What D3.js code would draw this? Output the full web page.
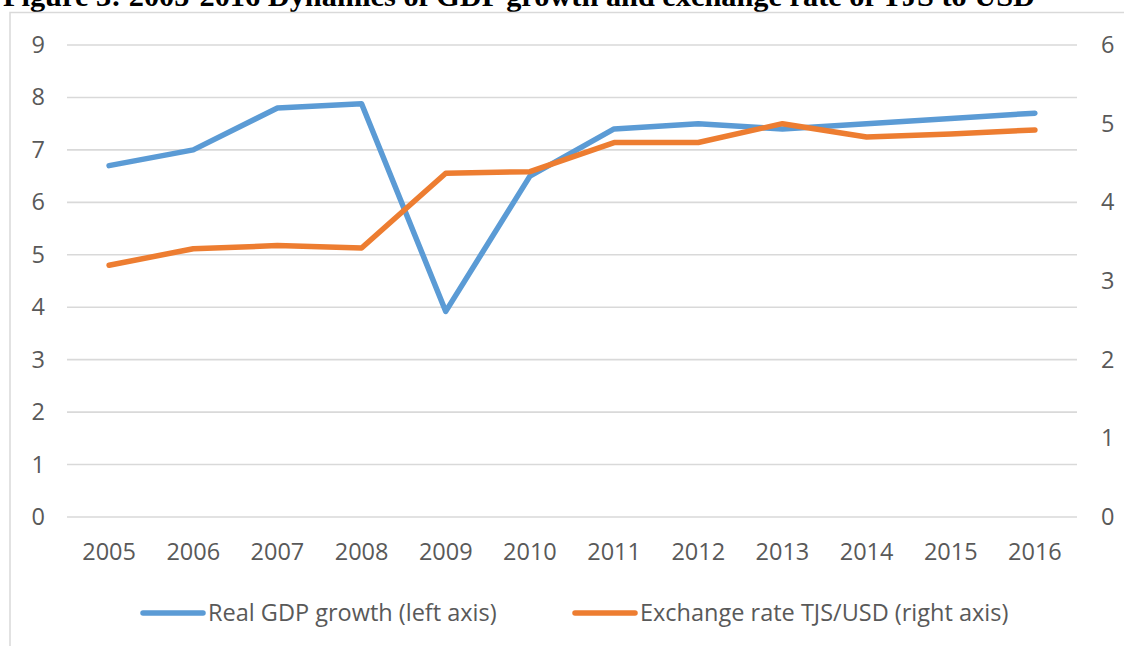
<!DOCTYPE html>
<html>
<head>
<meta charset="utf-8">
<script src="https://cdn.jsdelivr.net/npm/d3@7"></script>
<style>
  body { margin: 0; background: #fff; }
  svg { display: block; }
</style>
</head>
<body>
<svg></svg>
<script>
// data
var years = ["2005","2006","2007","2008","2009","2010","2011","2012","2013","2014","2015","2016"];
var gdpGrowth = [6.7, 7.0, 7.8, 7.88, 3.92, 6.5, 7.4, 7.5, 7.4, 7.5, 7.6, 7.7];
var exchangeRate = [3.2, 3.41, 3.45, 3.42, 4.37, 4.39, 4.76, 4.76, 5.0, 4.83, 4.87, 4.92];
var leftTicks = [0,1,2,3,4,5,6,7,8,9];
var rightTicks = [0,1,2,3,4,5,6];
var legendLabels = ["Real GDP growth (left axis)", "Exchange rate TJS/USD (right axis)"];

var width = 1124, height = 646;
var plot = {left: 67, right: 1077, top: 45, bottom: 517};
var textColor = "#595959";
var colors = ["#5B9BD5", "#ED7D31"];
var font = "'Open Sans', 'Noto Sans', sans-serif";
var fontSize = 23.5;

var svg = d3.select("svg")
    .attr("width", width)
    .attr("height", height);

// title (cut off at top in the original)
svg.append("text")
    .attr("x", 3)
    .attr("y", 5.5)
    .attr("font-family", "'Liberation Serif', 'Times New Roman', serif")
    .attr("font-weight", "bold")
    .attr("font-size", 30)
    .attr("textLength", 1032)
    .attr("lengthAdjust", "spacingAndGlyphs")
    .attr("fill", "#000")
    .text("Figure 3: 2005-2016 Dynamics of GDP growth and exchange rate of TJS to USD");

// chart frame
svg.append("rect")
    .attr("x", 10)
    .attr("y", 12.5)
    .attr("width", 1140)
    .attr("height", 660)
    .attr("fill", "none")
    .attr("stroke", "#d9d9d9")
    .attr("stroke-width", 1.5);

var x = d3.scaleBand().domain(years).range([plot.left, plot.right]);
var yL = d3.scaleLinear().domain([0, 9]).range([plot.bottom, plot.top]);
var yR = d3.scaleLinear().domain([0, 6]).range([plot.bottom, plot.top]);

// gridlines
svg.append("g")
    .selectAll("line")
    .data(leftTicks)
    .join("line")
    .attr("x1", plot.left)
    .attr("x2", plot.right)
    .attr("y1", d => yL(d))
    .attr("y2", d => yL(d))
    .attr("stroke", "#d9d9d9")
    .attr("stroke-width", 1.6);

// left axis
var leftAxis = svg.append("g")
    .attr("transform", "translate(" + (plot.left - 22) + ",0)")
    .call(d3.axisLeft(yL).tickValues(leftTicks).tickFormat(d3.format("d")).tickSize(0).tickPadding(0));
leftAxis.select(".domain").remove();

// right axis
var rightAxis = svg.append("g")
    .attr("transform", "translate(" + (plot.right + 24) + ",0)")
    .call(d3.axisRight(yR).tickValues(rightTicks).tickFormat(d3.format("d")).tickSize(0).tickPadding(0));
rightAxis.select(".domain").remove();

// x axis
var bottomAxis = svg.append("g")
    .attr("transform", "translate(0," + (plot.bottom + 21) + ")")
    .call(d3.axisBottom(x).tickSize(0).tickPadding(0));
bottomAxis.select(".domain").remove();

svg.selectAll(".tick text")
    .attr("font-family", font)
    .attr("font-size", fontSize)
    .attr("fill", textColor);
bottomAxis.selectAll("text").attr("dy", "0.95em");

// lines
var lineL = d3.line().x(d => x(d[0]) + x.bandwidth() / 2).y(d => yL(d[1]));
var lineR = d3.line().x(d => x(d[0]) + x.bandwidth() / 2).y(d => yR(d[1]));

svg.append("path")
    .datum(d3.zip(years, gdpGrowth))
    .attr("d", lineL)
    .attr("fill", "none")
    .attr("stroke", colors[0])
    .attr("stroke-width", 5.5)
    .attr("stroke-linejoin", "round")
    .attr("stroke-linecap", "round");

svg.append("path")
    .datum(d3.zip(years, exchangeRate))
    .attr("d", lineR)
    .attr("fill", "none")
    .attr("stroke", colors[1])
    .attr("stroke-width", 5.5)
    .attr("stroke-linejoin", "round")
    .attr("stroke-linecap", "round");

// legend
var legendX = [143, 575];
var legend = svg.append("g")
    .selectAll("g")
    .data(legendLabels)
    .join("g")
    .attr("transform", (d, i) => "translate(" + legendX[i] + ",613)");

legend.append("line")
    .attr("x1", 0)
    .attr("x2", 60)
    .attr("stroke", (d, i) => colors[i])
    .attr("stroke-width", 5.5)
    .attr("stroke-linecap", "round");

legend.append("text")
    .attr("x", 65)
    .attr("dy", "0.35em")
    .attr("font-family", font)
    .attr("font-size", fontSize)
    .attr("fill", textColor)
    .text(d => d);
</script>
</body>
</html>
